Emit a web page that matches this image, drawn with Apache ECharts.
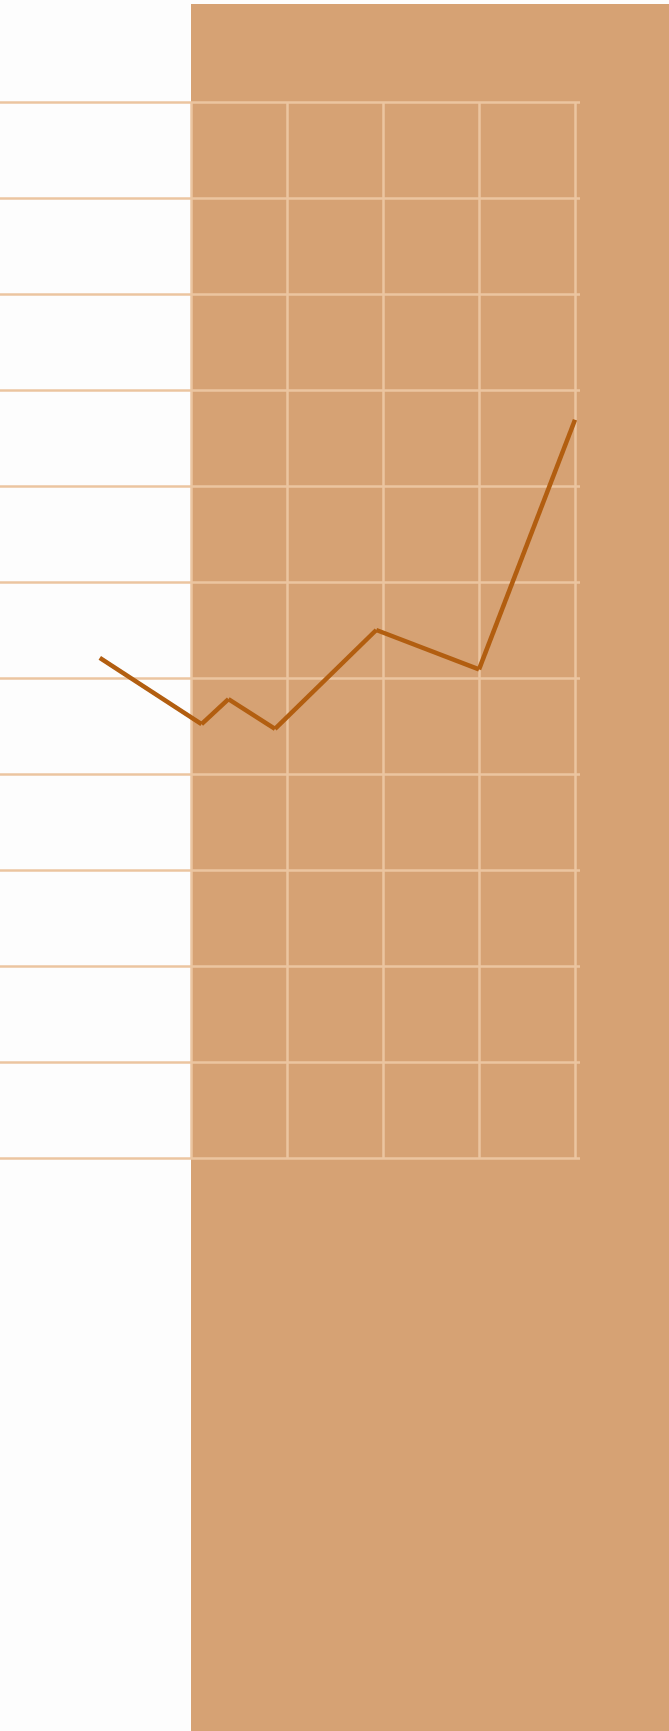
<!DOCTYPE html>
<html>
<head>
<meta charset="utf-8">
<script src="https://cdn.jsdelivr.net/npm/echarts@6/dist/echarts.min.js"></script>
<style>
  html, body { margin: 0; padding: 0; background: #fdfdfd; }
  #chart { width: 669px; height: 1731px; }
</style>
</head>
<body>
<div id="chart"></div>
<script>
// values
var xValues = [-0.95, 0.11, 0.39, 0.875, 1.93, 3.0, 4.0];
var yValues = [5.21, 4.52, 4.78, 4.47, 5.5, 5.09, 7.69];
var yTicks = [0, 1, 2, 3, 4, 5, 6, 7, 8, 9, 10, 11];
var xTicks = [0, 1, 2, 3, 4];

var gridColor = '#ebc5a0';
var lineColor = '#b25e10';

// each segment drawn on its own, like the reference
var segs = [];
for (var i = 0; i < xValues.length - 1; i++) {
  segs.push({
    coords: [[xValues[i], yValues[i]], [xValues[i + 1], yValues[i + 1]]]
  });
}

var myChart = echarts.init(document.getElementById('chart'));
var option = {
  animation: false,
  backgroundColor: '#fdfdfd',
  graphic: [{
    type: 'rect',
    z: -100,
    silent: true,
    shape: { x: 191, y: 4, width: 478, height: 1727 },
    style: { fill: '#d6a274' }
  }],
  grid: [
    { left: 0, right: 89, top: 102, bottom: 573 },
    { left: 191, right: 94, top: 102, bottom: 573 }
  ],
  xAxis: [
    {
      gridIndex: 0, type: 'value', min: 0, max: 1,
      axisLine: { show: false }, axisTick: { show: false },
      axisLabel: { show: false }, splitLine: { show: false }
    },
    {
      gridIndex: 1, type: 'value',
      min: xTicks[0], max: xTicks[xTicks.length - 1], interval: 1,
      axisLine: { show: false }, axisTick: { show: false },
      axisLabel: { show: false },
      splitLine: { show: true, lineStyle: { color: gridColor, width: 2.5 } }
    }
  ],
  yAxis: [
    {
      gridIndex: 0, type: 'value',
      min: yTicks[0], max: yTicks[yTicks.length - 1], interval: 1,
      axisLine: { show: false }, axisTick: { show: false },
      axisLabel: { show: false },
      splitLine: { show: true, lineStyle: { color: gridColor, width: 2.5 } }
    },
    {
      gridIndex: 1, type: 'value',
      min: yTicks[0], max: yTicks[yTicks.length - 1], interval: 1,
      axisLine: { show: false }, axisTick: { show: false },
      axisLabel: { show: false }, splitLine: { show: false }
    }
  ],
  series: [
    {
      type: 'lines',
      coordinateSystem: 'cartesian2d',
      xAxisIndex: 1,
      yAxisIndex: 1,
      clip: false,
      z: 10,
      lineStyle: { color: lineColor, width: 4.5, opacity: 1, curveness: 0, cap: 'butt' },
      data: segs
    }
  ]
};
myChart.setOption(option);
window.addEventListener('resize', function () {
  myChart.resize();
});
</script>
</body>
</html>
